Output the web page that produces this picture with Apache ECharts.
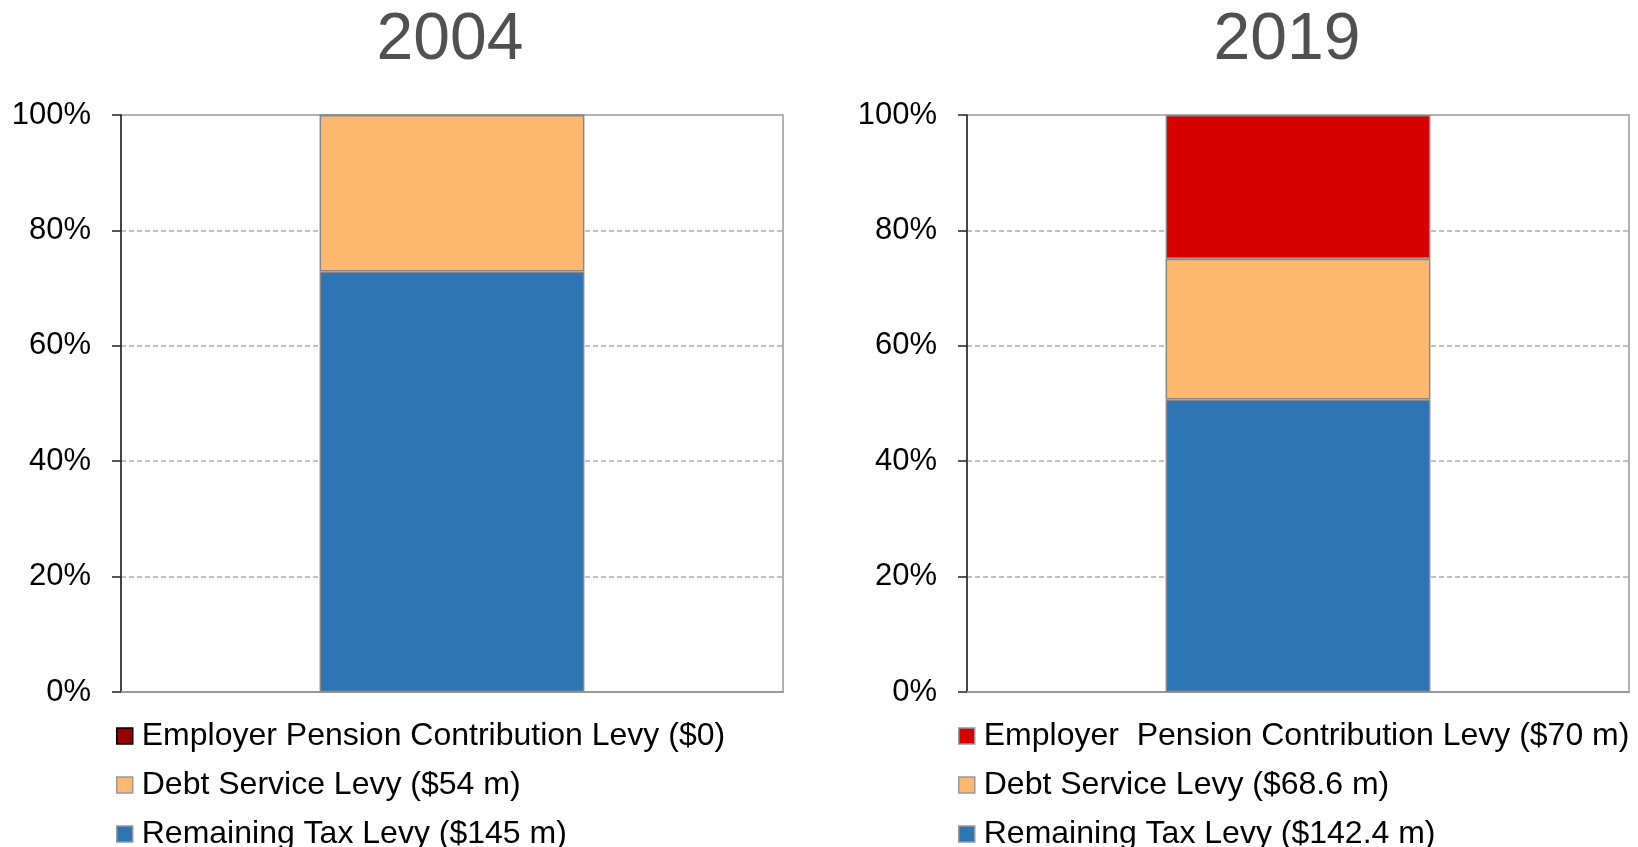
<!DOCTYPE html>
<html>
<head>
<meta charset="utf-8">
<script src="https://cdn.jsdelivr.net/npm/echarts@6/dist/echarts.min.js"></script>
<style>
  html, body { margin: 0; padding: 0; background: #fff; }
  #levyChart { width: 1638px; height: 847px; }
</style>
</head>
<body>
<div id="levyChart"></div>
<script>
// levy amounts in $ millions, one entry per year
var years = ['2004', '2019']
var remainingLevy = [145, 142.4]
var debtLevy = [54, 68.6]
var pensionLevy = [0, 70]
var remainingNames = ['Remaining Tax Levy ($145 m)', 'Remaining Tax Levy ($142.4 m)']
var debtNames = ['Debt Service Levy ($54 m)', 'Debt Service Levy ($68.6 m)']
var pensionNames = ['Employer Pension Contribution Levy ($0)', 'Employer  Pension Contribution Levy ($70 m)']
var yTicks = [0, 20, 40, 60, 80, 100]

var pensionColors = ['#990000', '#d90000']
var debtColor = '#ffb870'
var remainingColor = '#2e75b6'
var font = "'Liberation Sans', Arial, sans-serif"

var gridLeft = [121, 967]
var gridWidth = 662
var titleCenter = [450, 1287]
var legendLeft = [116, 958]

var myChart = echarts.init(document.getElementById('levyChart'))

var titles = [], grids = [], xAxes = [], yAxes = [], legends = [], series = []

years.forEach(function (year, i) {
  var total = remainingLevy[i] + debtLevy[i] + pensionLevy[i]
  var pct = function (v) { return v / total * 100 }

  titles.push({
    text: year,
    left: titleCenter[i],
    top: 8,
    padding: 0,
    textAlign: 'center',
    textStyle: { fontFamily: font, fontSize: 66, fontWeight: 'normal', color: '#505050' }
  })
  grids.push({
    left: gridLeft[i], top: 115, width: gridWidth, height: 577,
    show: true, borderColor: '#999', borderWidth: 1.5
  })
  xAxes.push({
    type: 'category', gridIndex: i, data: [year],
    axisLine: { lineStyle: { color: '#999', width: 2 } },
    axisTick: { length: 14, lineStyle: { color: '#aaa', width: 1.5 } },
    axisLabel: { show: false }
  })
  yAxes.push({
    type: 'value', gridIndex: i, min: yTicks[0], max: yTicks[yTicks.length - 1], interval: 20,
    axisLine: { show: true, lineStyle: { color: '#222', width: 1.5 } },
    axisTick: { show: true, length: 9, lineStyle: { color: '#222', width: 1.5 } },
    axisLabel: { formatter: '{value}%', margin: 30, fontFamily: font, fontSize: 31, color: '#000' },
    splitLine: { show: true, showMinLine: false, showMaxLine: false, lineStyle: { color: '#adadad', width: 1.5, type: [5, 3] } }
  })
  legends.push({
    orient: 'vertical', left: legendLeft[i], top: 720, height: 160, padding: 0,
    itemWidth: 16, itemHeight: 16, itemGap: 17,
    selectedMode: false,
    textStyle: { fontFamily: font, fontSize: 32, lineHeight: 31, color: '#000', padding: [0, 0, 0, 4] },
    data: [
      { name: pensionNames[i], icon: 'rect', itemStyle: { borderColor: i === 0 ? '#000' : '#999', borderWidth: 1.5 } },
      { name: debtNames[i], icon: 'rect', itemStyle: { borderColor: '#999', borderWidth: 1.5 } },
      { name: remainingNames[i], icon: 'rect', itemStyle: { borderColor: '#999', borderWidth: 1.5 } }
    ]
  })

  var bars = [
    [remainingNames[i], remainingLevy[i], remainingColor],
    [debtNames[i], debtLevy[i], debtColor],
    [pensionNames[i], pensionLevy[i], pensionColors[i]]
  ]
  bars.forEach(function (b) {
    series.push({
      name: b[0], type: 'bar', stack: 'year' + i,
      xAxisIndex: i, yAxisIndex: i,
      barWidth: '40%',
      itemStyle: { color: b[2], borderColor: '#888', borderWidth: 1.5 },
      data: [pct(b[1])]
    })
  })
})

var option = {
  animation: false,
  title: titles,
  grid: grids,
  xAxis: xAxes,
  yAxis: yAxes,
  legend: legends,
  series: series
}
myChart.setOption(option)
</script>
</body>
</html>
